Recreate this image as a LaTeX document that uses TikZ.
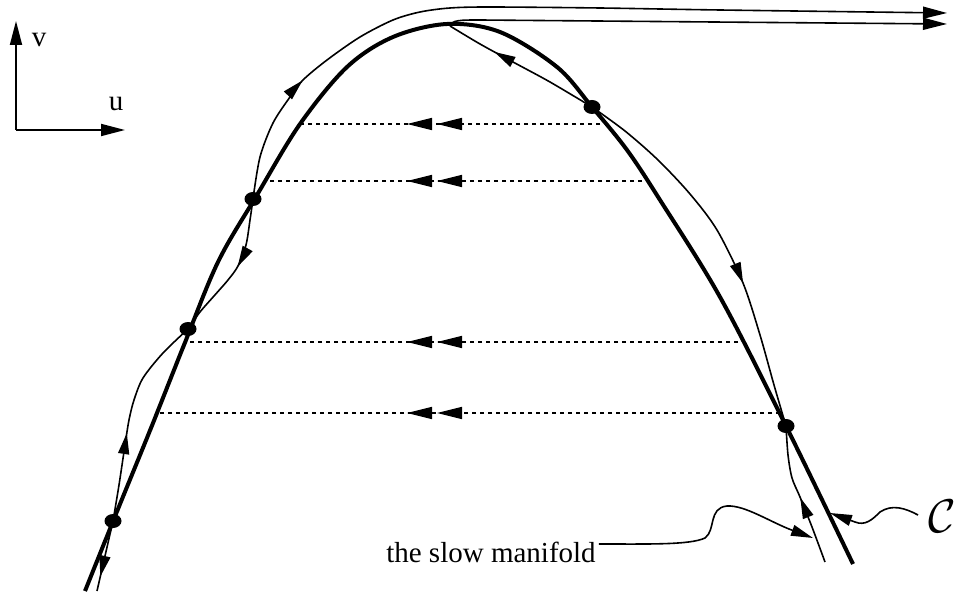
\documentclass[tikz,border=0pt]{standalone}
\usepackage{fontspec}
\usepackage{graphicx}
\setmainfont{Liberation Serif}
\usetikzlibrary{arrows.meta,decorations.markings,shapes.geometric}
\tikzset{
  trtip/.tip={Triangle[length=21pt,width=11pt]},
  dtip/.tip={Triangle[length=25pt,width=12pt]},
  atip/.tip={Triangle[length=24pt,width=12pt]},
  ltip/.tip={Triangle[length=22pt,width=11pt]},
}
\begin{document}
\begin{tikzpicture}[x=1pt,y=-1pt,
  manifold/.style={line width=4pt, line join=round},
  traj/.style={line width=1.6pt, line join=round},
  fastline/.style={line width=1.4pt, dash pattern=on 4.5pt off 3.5pt},
  fixpt/.style={ellipse, fill=black, minimum width=17pt, minimum height=14pt, inner sep=0pt},
  markfwd/.style={postaction={decorate, decoration={markings, mark=at position #1 with {\arrow{trtip}}}}},
  lbl/.style={font=\fontsize{29}{34}\selectfont, inner sep=0pt},
]
\useasboundingbox (0,0) rectangle (957,593);

% fixed points
\coordinate (A) at (113,521);
\coordinate (B) at (188,329);
\coordinate (Cc) at (253,199);
\coordinate (D) at (592,107);
\coordinate (E) at (786,426);
\coordinate (K) at (450,26);

% axes
\coordinate (O) at (16,130);
\coordinate (Vy) at (16,21);
\coordinate (Ux) at (125,130);
\draw[line width=1.8pt, -{atip}] (O) -- (Vy);
\draw[line width=1.8pt, -{atip}] (O) -- (Ux);
\node[lbl] (vl) at (39,40) {v};
\node[lbl] (ul) at (116,104) {u};

% fast fibres (dashed)
\foreach \y/\xl/\xr in {124/300/600, 181/265/642, 342/187/738, 413/160/780}{
  \coordinate (fr\y) at (\xr,\y);
  \coordinate (fl\y) at (\xl,\y);
  \pgfmathsetmacro{\pa}{\xr-437}
  \pgfmathsetmacro{\pb}{\xr-407}
  \draw[fastline, postaction={decorate, decoration={markings,
      mark=at position \pa pt with {\arrow{dtip}},
      mark=at position \pb pt with {\arrow{dtip}}}}] (fr\y) -- (fl\y);
}

% critical manifold (thick)
\draw[manifold] plot[smooth, tension=0.55] coordinates {
  (85,591) (118,509) (151,428) (184,345) (218,262) (257,195) (300,124)
  (347,67) (393,37) (447,24) (500,32) (557,67) (592,107) (627,150)
  (660,200) (720,297) (786,426) (853,564)};

% left trajectory pieces
\draw[traj, markfwd=57pt] (A) -- (97,591);
\draw[traj, markfwd=89pt] plot[smooth] coordinates {
  (A) (119,485) (125,445) (129,420) (134,400) (143,378) (163,353) (B)};
\draw[traj, markfwd=70pt] plot[smooth] coordinates {
  (Cc) (250,220) (246,245) (238,266) (228,280) (214,296) (200,312) (B)};
\coordinate (T1) at (947,13);
\draw[traj, markfwd=131pt, -{atip}] plot[smooth] coordinates {
  (Cc) (260,157) (273,123) (290,97) (303,80) (327,60) (360,37) (393,20)
  (420,12) (450,8) (490,7) (600,8) (720,10) (T1)};

% right trajectory pieces
\coordinate (T2) at (947,24);
\draw[traj, -{atip}] (K) .. controls (452,20) and (460,20) .. (480,20) -- (T2);
\draw[traj, markfwd=112pt] plot[smooth] coordinates {
  (D) (550,82) (513,62) (480,44) (K)};
\draw[traj, markfwd=236pt] plot[smooth] coordinates {
  (D) (625,131) (658,160) (690,194) (717,230) (743,283) (760,335) (774,385) (E)};
\coordinate (S3) at (825,562);
\draw[traj, markfwd=69pt] plot[smooth] coordinates {
  (S3) (812,527) (800,497) (792,478) (788,455) (E)};

% labels with pointers
\node[lbl] (sm) at (491,552) {the slow manifold};
\coordinate (smtip) at (813,538);
\draw[traj, -{ltip}] ([shift={(3,-8)}]sm.east) .. controls (650,544) and (690,545) .. (705,538)
  .. controls (716,530) and (708,508) .. (727,506) .. controls (745,505) and (770,522) .. (smtip);

\node[font=\fontsize{24}{28}\selectfont, anchor=east, inner sep=0pt] (Cl) at (956,516) {\scalebox{1.9}{$\mathcal{C}$}};
\coordinate (cs) at (918,515);
\coordinate (ctip) at (830,513);
\draw[traj, -{ltip}] (cs) .. controls (905,508) and (892,504) .. (880,512)
  .. controls (872,520) and (865,526) .. (855,522) -- (ctip);

% fixed point dots
\foreach \p in {A,B,Cc,D,E}{ \node[fixpt] (dot\p) at (\p) {}; }
\end{tikzpicture}
\end{document}
